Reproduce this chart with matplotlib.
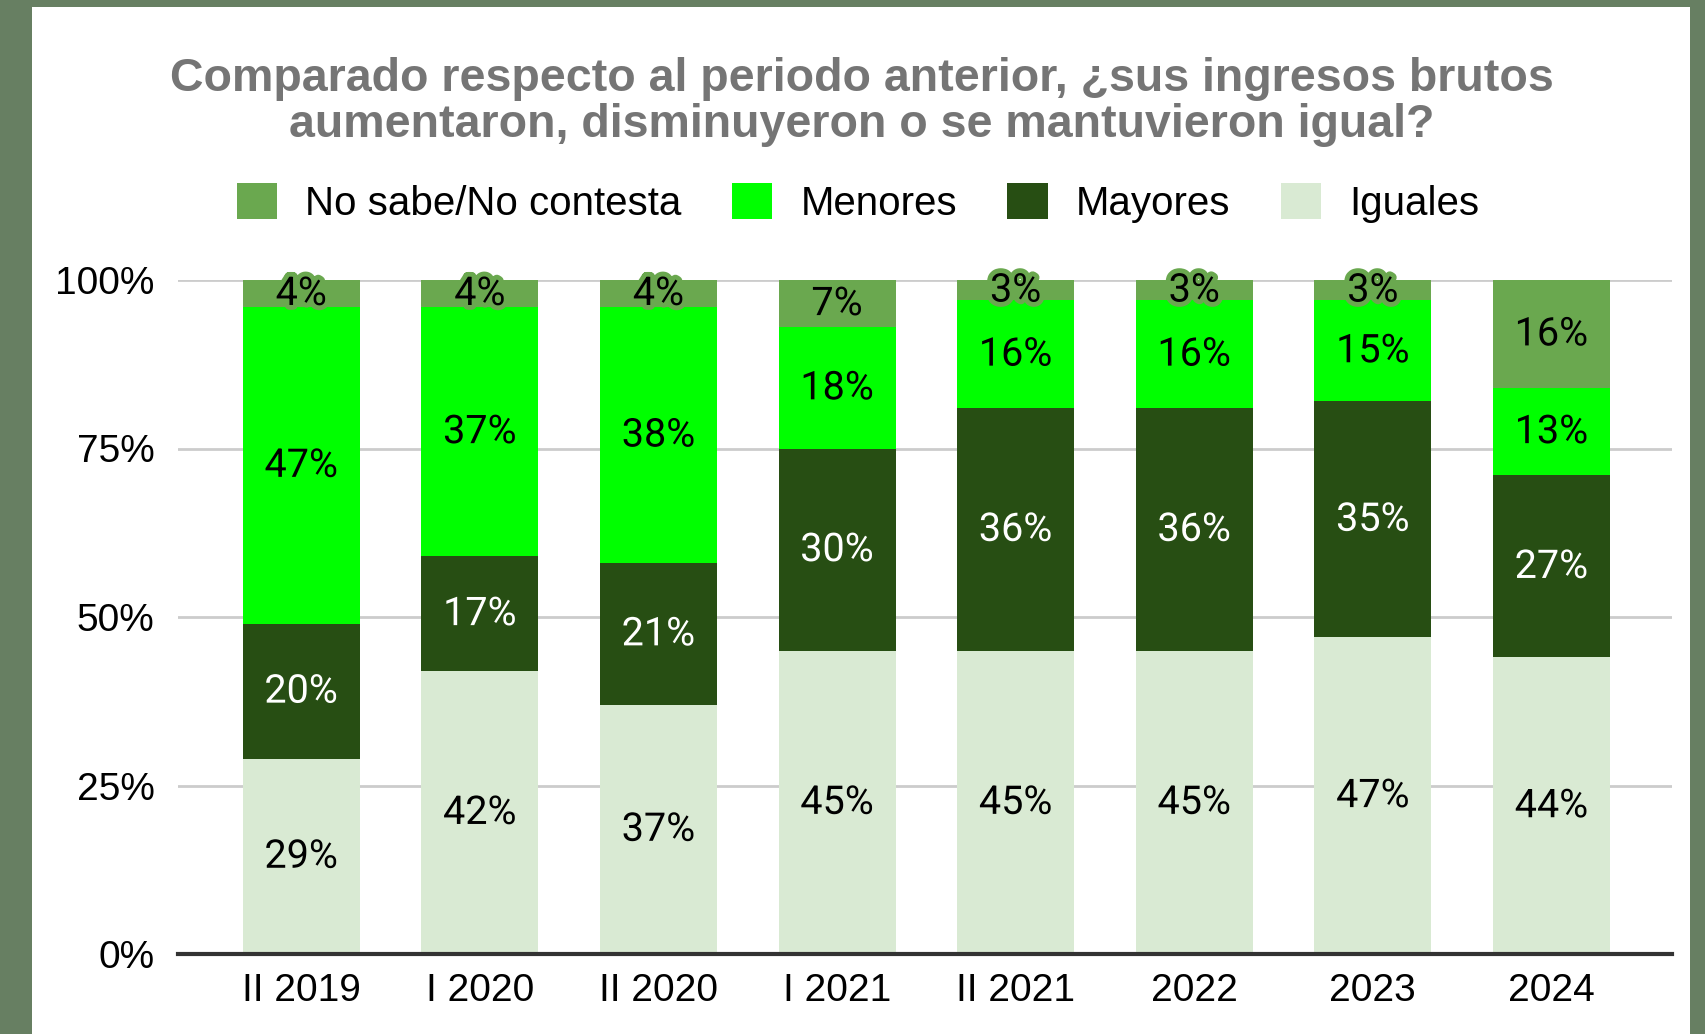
import numpy as np
import matplotlib
matplotlib.use("Agg")
import matplotlib.pyplot as plt
import matplotlib.patheffects as pe
from matplotlib.patches import Rectangle, Patch

# data (percent)
periods = ["II 2019", "I 2020", "II 2020", "I 2021", "II 2021", "2022", "2023", "2024"]
iguales = [29, 42, 37, 45, 45, 45, 47, 44]
mayores = [20, 17, 21, 30, 36, 36, 35, 27]
menores = [47, 37, 38, 18, 16, 16, 15, 13]
no_sabe = [4, 4, 4, 7, 3, 3, 3, 16]

series = [("Iguales", iguales, "#d9ead3", "black"),
          ("Mayores", mayores, "#274e13", "white"),
          ("Menores", menores, "#00ff00", "black"),
          ("No sabe/No contesta", no_sabe, "#6aa84f", "black")]
legend_order = ["No sabe/No contesta", "Menores", "Mayores", "Iguales"]

TITLE = ("Comparado respecto al periodo anterior, ¿sus ingresos brutos\n"
         "aumentaron, disminuyeron o se mantuvieron igual?")

fig = plt.figure(figsize=(17.05, 10.34), dpi=100)
fig.patch.set_facecolor("#677f62")
fig.add_artist(Rectangle((32 / 1705, 0), (1690 - 32) / 1705, 1 - 7 / 1034,
                         transform=fig.transFigure, facecolor="white",
                         edgecolor="none", zorder=0))

ax = fig.add_axes([178 / 1705, 1 - 954 / 1034, (1672 - 178) / 1705, (954 - 280) / 1034])
ax.set_facecolor("none")

x = np.arange(len(periods))
bottom = np.zeros(len(periods))
for name, vals, col, tcol in series:
    vals = np.array(vals, dtype=float)
    ax.bar(x, vals, 0.655, bottom=bottom, color=col, label=name, zorder=2)
    for xi, b, v in zip(x, bottom, vals):
        ax.text(xi, b + v / 2, f"{v:.0f}%", ha="center", va="center",
                fontsize=28.5, family="Roboto", color=tcol, zorder=4,
                path_effects=[pe.withStroke(linewidth=7, foreground=col)])
    bottom += vals

ax.set_xlim(-0.69, 7.675)
ax.set_ylim(0, 100)
ax.set_yticks([0, 25, 50, 75, 100])
ax.set_yticklabels([f"{t}%" for t in [0, 25, 50, 75, 100]])
ax.set_xticks(x)
ax.set_xticklabels(periods)
ax.tick_params(axis="both", length=0, labelsize=28)
ax.tick_params(axis="y", pad=17)
ax.tick_params(axis="x", pad=14)
for lab in ax.get_xticklabels() + ax.get_yticklabels():
    lab.set_family("Liberation Sans")
ax.grid(axis="y", color="#cccccc", linewidth=2, zorder=1)
for s in ["top", "right", "left"]:
    ax.spines[s].set_visible(False)
ax.spines["bottom"].set_color("#333333")
ax.spines["bottom"].set_linewidth(3)
ax.spines["bottom"].set_zorder(3)

fig.text(862 / 1705, 1 - 102 / 1034, TITLE, ha="center", va="center",
         fontsize=33.5, fontweight="bold", color="#757575",
         family="Liberation Sans", linespacing=1.03)

cmap = {n: c for n, _, c, _ in series}
handles = [Patch(facecolor=cmap[n], edgecolor="none") for n in legend_order]
fig.legend(handles, legend_order, loc="center", ncol=4,
           bbox_to_anchor=(858 / 1705, 1 - 203 / 1034), frameon=False,
           prop={"family": "Liberation Sans", "size": 29},
           handlelength=1.0, handleheight=1.0, handletextpad=0.7,
           columnspacing=1.25)

fig.savefig("out.png", dpi=100, facecolor=fig.get_facecolor())
